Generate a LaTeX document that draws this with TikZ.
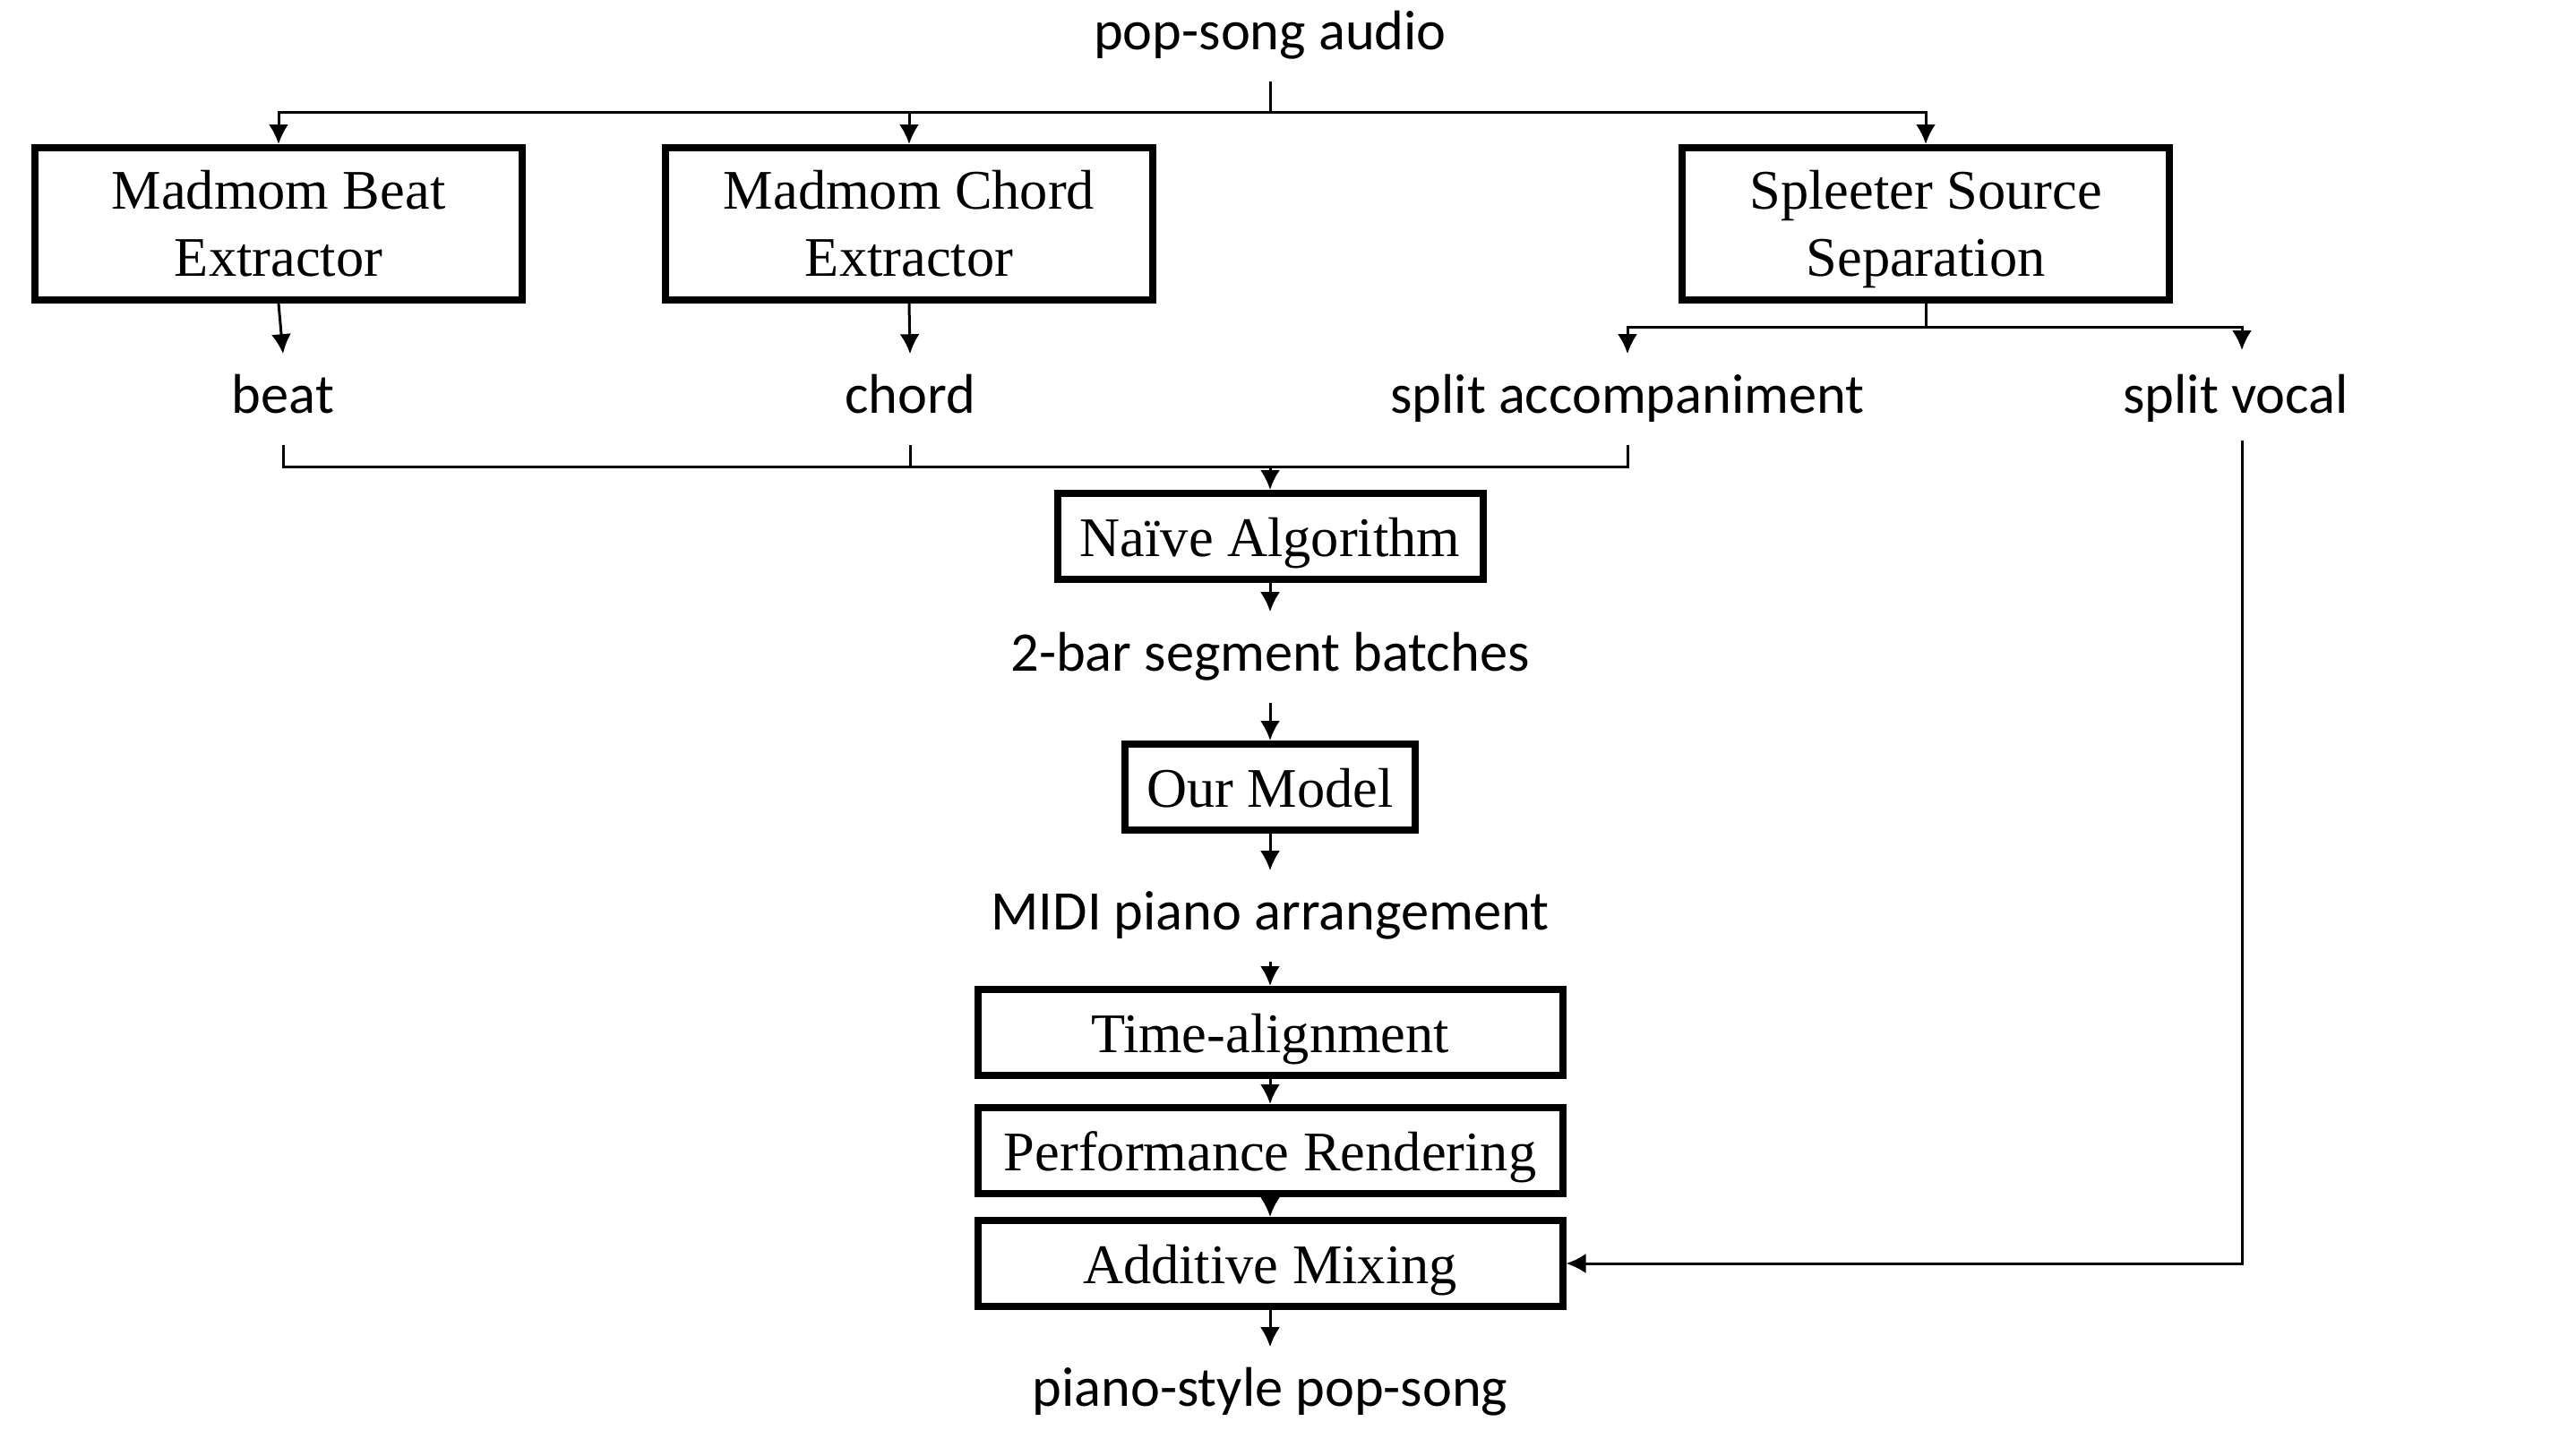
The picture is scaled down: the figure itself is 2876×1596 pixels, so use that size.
\documentclass[tikz,border=0pt]{standalone}
\usepackage{fontspec}
\setmainfont{Liberation Serif}
\newfontfamily\labfont{Carlito}
\usetikzlibrary{arrows.meta}
\begin{document}
\begin{tikzpicture}[x=0.25pt,y=-0.25pt,
  boxbase/.style={draw,line width=2pt,inner sep=0pt,align=center,
    font=\fontsize{15.6}{18.8}\selectfont},
  box/.style={boxbase,text height=14pt,text depth=3pt},
  boxtwo/.style={boxbase,minimum width=136pt,minimum height=42.5pt},
  lab/.style={inner xsep=2pt,inner ysep=5.25pt,text height=11pt,text depth=3.5pt,
    font=\labfont\fontsize{15.6}{18.8}\selectfont},
  conn/.style={line width=0.75pt},
  arr/.style={conn,-{Latex[length=5.5pt,width=5.5pt]}}]
\useasboundingbox (0,0) rectangle (2876,1596);
% labels
\node[lab] (pop) at (1418,40) {pop-song audio};
\node[lab] (beat) at (316,446) {beat};
\node[lab] (chord) at (1016,446) {chord};
\node[lab] (acc) at (1817,446) {split accompaniment};
\node[lab] (vocal) at (2496,446) {split vocal};
\coordinate (vin) at (2503,391);
\coordinate (vout) at (2503,492);
\node[lab] (batch) at (1418,734) {2-bar segment batches};
\node[lab] (midi) at (1418,1023) {MIDI piano arrangement};
\node[lab] (final) at (1418,1555) {piano-style pop-song};
% boxes
\node[boxtwo] (beatbox) at (311,250) {Madmom Beat\\Extractor};
\node[boxtwo] (chordbox) at (1015,250) {Madmom Chord\\Extractor};
\node[boxtwo] (splbox) at (2150,250) {Spleeter Source\\Se\smash{p}aration};
\node[box,minimum width=118.75pt,minimum height=24pt] (naive) at (1418,599) {Naïve Algorithm};
\node[box,minimum width=81pt,minimum height=24pt] (model) at (1418,879) {Our Model};
\node[box,minimum width=163.25pt,minimum height=24pt] (time) at (1418,1153) {Time-alignment};
\node[box,minimum width=163.25pt,minimum height=24pt] (perf) at (1418,1285) {Performance Rendering};
\node[box,minimum width=163.25pt,minimum height=24pt] (mix) at (1418,1411) {Additive Mixing};
% top split
\coordinate (t) at (1418,125);
\draw[conn] (pop.south) -- (t);
\draw[arr] (t) -| (beatbox.north);
\draw[arr] (t) -| (chordbox.north);
\draw[arr] (t) -| (splbox.north);
% extractor outputs
\draw[arr] (beatbox.south) -- (beat.north);
\draw[arr] (chordbox.south) -- (chord.north);
\coordinate (s) at (2150,365);
\draw[conn] (splbox.south) -- (s);
\draw[arr] (s) -| (acc.north);
\draw[arr] (s) -| (vin);
% merge
\coordinate (m) at (1418,521);
\draw[conn] (beat.south) |- (m);
\draw[conn] (acc.south) |- (m);
\draw[conn] (chord.south) -- (chord.south |- m);
\draw[arr] (m) -- (naive.north);
% chain
\draw[arr] (naive.south) -- (batch.north);
\draw[arr] (batch.south) -- (model.north);
\draw[arr] (model.south) -- (midi.north);
\draw[arr] (midi.south) -- (time.north);
\draw[arr] (time.south) -- (perf.north);
\draw[arr] (perf.south) -- (mix.north);
\draw[arr] (mix.south) -- (final.north);
% vocal
\draw[arr] (vout) |- (mix.east);
\end{tikzpicture}
\end{document}
